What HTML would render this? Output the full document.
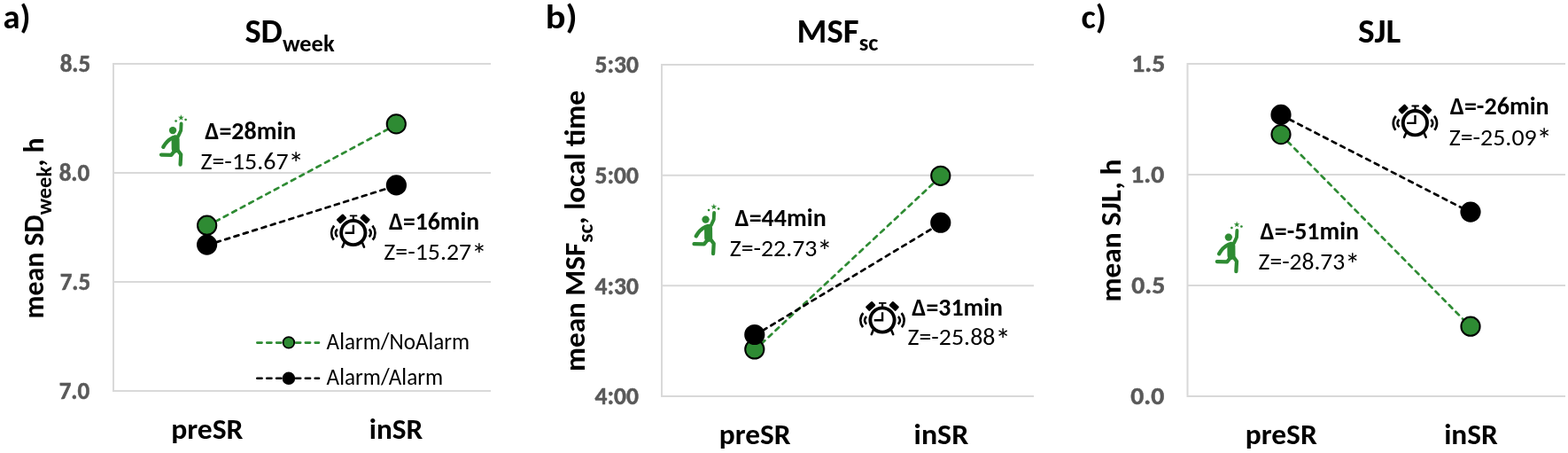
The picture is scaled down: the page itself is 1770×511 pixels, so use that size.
<!DOCTYPE html>
<html><head><meta charset="utf-8"><title>Sleep chart panels</title>
<style>
html,body{margin:0;padding:0;background:#fff;}
body{width:1770px;height:511px;overflow:hidden;}
svg{display:block;}
text{font-family:"Carlito","Liberation Sans",sans-serif;fill:#000;}
.lbl,.ttl,.ax,.cat,.annb{font-weight:bold;}
.tick{font-weight:bold;fill:#595959;stroke:#595959;stroke-width:0.5;}
.grid{stroke:#d9d9d9;stroke-width:2;fill:none;}
.g{stroke:#2e8b33;stroke-width:2.7;stroke-dasharray:5.1 5.7;stroke-linecap:round;fill:none;}
.k{stroke:#000;stroke-width:2.7;stroke-dasharray:5.1 5.7;stroke-linecap:round;fill:none;}
.lg{stroke-width:2.6;stroke-dasharray:5.3 5.6;}
.mg{fill:#2e8b33;stroke:#000;stroke-width:2;}
.mk{fill:#000;stroke:#000;stroke-width:2;}
.ic{fill:#2e8b33;stroke:#2e8b33;stroke-linecap:round;stroke-linejoin:round;}
</style></head>
<body>
<svg width="1770" height="511" viewBox="0 0 1770 511">
<rect width="1770" height="511" fill="#fff"/>
<path class="grid" d="M128 72H554M128 195H554M128 318H554M128 441H554M128 71V442"/>
<path class="k" d="M233.6 276.6L447.4 209.4"/>
<path class="g" d="M233.65 255L447.3 140.7"/>
<circle class="mk" cx="233.6" cy="276.1" r="10.6"/><circle class="mk" cx="447.4" cy="208.9" r="10.6"/>
<circle class="mg" cx="233.65" cy="254.2" r="10.6"/><circle class="mg" cx="447.3" cy="139.9" r="10.6"/>
<path class="g lg" d="M290.3 386.6H360"/><circle class="mg" cx="325.9" cy="386.4" r="6.3" style="stroke-width:1.8"/>
<path class="k lg" d="M290.3 426.8H360"/><circle class="mk" cx="325.9" cy="426.8" r="6.3"/>
<path class="grid" d="M747 73H1167M747 197.7H1167M747 322.3H1167M747 447H1167M747 72V448"/>
<path class="g" d="M851.8 394.9L1061.8 199.2"/>
<path class="k" d="M851.8 378.4L1061.8 252.1"/>
<circle class="mg" cx="851.8" cy="394" r="10.6"/><circle class="mg" cx="1061.8" cy="198.3" r="10.6"/>
<circle class="mk" cx="851.8" cy="377.5" r="10.6"/><circle class="mk" cx="1061.8" cy="251.2" r="10.6"/>
<path class="grid" d="M1340.5 72H1767M1340.5 197H1767M1340.5 322H1767M1340.5 447H1767M1340.5 71V448"/>
<path class="k" d="M1446 129.8L1660 239.5"/>
<path class="g" d="M1446 152L1660 368.6"/>
<circle class="mk" cx="1446" cy="129.4" r="10.6"/><circle class="mk" cx="1660" cy="239.1" r="10.6"/>
<circle class="mg" cx="1446" cy="151.6" r="10.6"/><circle class="mg" cx="1660" cy="368.2" r="10.6"/>
<g class="ic" transform="translate(176.00,126.00) scale(0.12539)"><path d="M226.0 28.0 L232.5 45.1 L250.7 46.0 L236.5 57.4 L241.3 75.0 L226.0 65.0 L210.7 75.0 L215.5 57.4 L201.3 46.0 L219.5 45.1Z"/><circle cx="180" cy="83" r="10"/><circle cx="268" cy="72" r="10"/><circle cx="152" cy="168" r="33"/><path d="M176 246 L177 334" stroke-width="72" fill="none"/><path d="M228 108 L225 168 L202 218" stroke-width="31" fill="none"/><path d="M150 234 Q98 260 66 318 M175 345 L138 390 L48 388 M195 345 L225 385 L220 476" stroke-width="34" fill="none"/></g>
<g class="ic" transform="translate(777.50,226.50) scale(0.12539)"><path d="M226.0 28.0 L232.5 45.1 L250.7 46.0 L236.5 57.4 L241.3 75.0 L226.0 65.0 L210.7 75.0 L215.5 57.4 L201.3 46.0 L219.5 45.1Z"/><circle cx="180" cy="83" r="10"/><circle cx="268" cy="72" r="10"/><circle cx="152" cy="168" r="33"/><path d="M176 246 L177 334" stroke-width="72" fill="none"/><path d="M228 108 L225 168 L202 218" stroke-width="31" fill="none"/><path d="M150 234 Q98 260 66 318 M175 345 L138 390 L48 388 M195 345 L225 385 L220 476" stroke-width="34" fill="none"/></g>
<g class="ic" transform="translate(1367.80,246.50) scale(0.12539)"><path d="M226.0 28.0 L232.5 45.1 L250.7 46.0 L236.5 57.4 L241.3 75.0 L226.0 65.0 L210.7 75.0 L215.5 57.4 L201.3 46.0 L219.5 45.1Z"/><circle cx="180" cy="83" r="10"/><circle cx="268" cy="72" r="10"/><circle cx="152" cy="168" r="33"/><path d="M176 246 L177 334" stroke-width="72" fill="none"/><path d="M228 108 L225 168 L202 218" stroke-width="31" fill="none"/><path d="M150 234 Q98 260 66 318 M175 345 L138 390 L48 388 M195 345 L225 385 L220 476" stroke-width="34" fill="none"/></g>
<g transform="translate(370.00,238.00) scale(0.08803)"><g fill="#000"><rect x="118.5" y="63" width="115" height="76" rx="13" transform="rotate(-43 176 101)"/><rect x="420.5" y="63" width="115" height="76" rx="13" transform="rotate(43 478 101)"/></g><circle cx="327" cy="278" r="155" fill="none" stroke="#fff" stroke-width="64"/><circle cx="327" cy="278" r="155" fill="none" stroke="#000" stroke-width="44"/><rect x="282" y="50" width="96" height="22" rx="5" fill="#000"/><rect x="315.5" y="66" width="25" height="50" fill="#000"/><g fill="none" stroke="#000" stroke-width="27"><path d="M328 180V281H222"/><path d="M210 410L188 462M444 410L466 462" stroke-width="29" stroke-linecap="round"/><path d="M82 190A139 139 0 0 0 78 370M125 235A58 58 0 0 0 125 330M572 190A139 139 0 0 1 576 370M529 235A58 58 0 0 1 529 330" stroke-width="30"/></g></g>
<g transform="translate(967.20,336.50) scale(0.08803)"><g fill="#000"><rect x="118.5" y="63" width="115" height="76" rx="13" transform="rotate(-43 176 101)"/><rect x="420.5" y="63" width="115" height="76" rx="13" transform="rotate(43 478 101)"/></g><circle cx="327" cy="278" r="155" fill="none" stroke="#fff" stroke-width="64"/><circle cx="327" cy="278" r="155" fill="none" stroke="#000" stroke-width="44"/><rect x="282" y="50" width="96" height="22" rx="5" fill="#000"/><rect x="315.5" y="66" width="25" height="50" fill="#000"/><g fill="none" stroke="#000" stroke-width="27"><path d="M328 180V281H222"/><path d="M210 410L188 462M444 410L466 462" stroke-width="29" stroke-linecap="round"/><path d="M82 190A139 139 0 0 0 78 370M125 235A58 58 0 0 0 125 330M572 190A139 139 0 0 1 576 370M529 235A58 58 0 0 1 529 330" stroke-width="30"/></g></g>
<g transform="translate(1568.60,114.20) scale(0.08803)"><g fill="#000"><rect x="118.5" y="63" width="115" height="76" rx="13" transform="rotate(-43 176 101)"/><rect x="420.5" y="63" width="115" height="76" rx="13" transform="rotate(43 478 101)"/></g><circle cx="327" cy="278" r="155" fill="none" stroke="#fff" stroke-width="64"/><circle cx="327" cy="278" r="155" fill="none" stroke="#000" stroke-width="44"/><rect x="282" y="50" width="96" height="22" rx="5" fill="#000"/><rect x="315.5" y="66" width="25" height="50" fill="#000"/><g fill="none" stroke="#000" stroke-width="27"><path d="M328 180V281H222"/><path d="M210 410L188 462M444 410L466 462" stroke-width="29" stroke-linecap="round"/><path d="M82 190A139 139 0 0 0 78 370M125 235A58 58 0 0 0 125 330M572 190A139 139 0 0 1 576 370M529 235A58 58 0 0 1 529 330" stroke-width="30"/></g></g>
<text id="lblA" class="lbl" font-size="37.5" textLength="31.10" lengthAdjust="spacingAndGlyphs" x="3.40" y="32.00">a)</text>
<text id="ttlA" class="ttl" font-size="38" textLength="101.16" lengthAdjust="spacingAndGlyphs" x="276.40" y="48.20">SD<tspan font-size="26" dy="9.4">week</tspan></text>
<text id="tA8.5" class="tick" font-size="28.3" text-anchor="end" textLength="34.64" lengthAdjust="spacingAndGlyphs" x="102.30" y="81.20">8.5</text>
<text id="tA8.0" class="tick" font-size="28.3" text-anchor="end" textLength="34.64" lengthAdjust="spacingAndGlyphs" x="101.30" y="204.20">8.0</text>
<text id="tA7.5" class="tick" font-size="28.3" text-anchor="end" textLength="34.64" lengthAdjust="spacingAndGlyphs" x="102.30" y="327.20">7.5</text>
<text id="tA7.0" class="tick" font-size="28.3" text-anchor="end" textLength="34.64" lengthAdjust="spacingAndGlyphs" x="101.30" y="450.20">7.0</text>
<text id="axA" class="ax" font-size="32.5" textLength="204.20" lengthAdjust="spacingAndGlyphs" transform="translate(48.50,359.50) rotate(-90)">mean SD<tspan font-size="25" dy="9.4">week</tspan><tspan dy="-9.4">, h</tspan></text>
<text id="preA" class="cat" font-size="32.3" textLength="81.24" lengthAdjust="spacingAndGlyphs" x="193.20" y="495.10">preSR</text>
<text id="inA" class="cat" font-size="32.3" textLength="60.57" lengthAdjust="spacingAndGlyphs" x="416.80" y="495.10">inSR</text>
<text id="d28" class="annb" font-size="27.5" textLength="102.97" lengthAdjust="spacingAndGlyphs" x="231.30" y="156.50">Δ=28min</text>
<text id="z1567" class="ann" font-size="27.3" textLength="116.52" lengthAdjust="spacingAndGlyphs" x="226.40" y="190.90">Z=-15.67<tspan font-size="34" dy="5.4">*</tspan></text>
<text id="d16" class="annb" font-size="27.5" textLength="102.26" lengthAdjust="spacingAndGlyphs" x="438.90" y="258.60">Δ=16min</text>
<text id="z1527" class="ann" font-size="27.3" textLength="116.21" lengthAdjust="spacingAndGlyphs" x="433.30" y="293.40">Z=-15.27<tspan font-size="34" dy="5.4">*</tspan></text>
<text id="legNo" class="leg" font-size="26" textLength="161.60" lengthAdjust="spacingAndGlyphs" x="368.60" y="394.30">Alarm/NoAlarm</text>
<text id="legAA" class="leg" font-size="26" textLength="131.53" lengthAdjust="spacingAndGlyphs" x="368.60" y="433.90">Alarm/Alarm</text>
<text id="lblB" class="lbl" font-size="37.5" textLength="35.94" lengthAdjust="spacingAndGlyphs" x="615.80" y="31.50">b)</text>
<text id="ttlB" class="ttl" font-size="38" textLength="91.75" lengthAdjust="spacingAndGlyphs" x="899.60" y="47.90">MSF<tspan font-size="26" dy="8.6">sc</tspan></text>
<text id="tB5:30" class="tick" font-size="28.3" text-anchor="end" textLength="49.42" lengthAdjust="spacingAndGlyphs" x="721.00" y="82.20">5:30</text>
<text id="tB5:00" class="tick" font-size="28.3" text-anchor="end" textLength="49.42" lengthAdjust="spacingAndGlyphs" x="721.00" y="206.90">5:00</text>
<text id="tB4:30" class="tick" font-size="28.3" text-anchor="end" textLength="49.42" lengthAdjust="spacingAndGlyphs" x="721.00" y="331.50">4:30</text>
<text id="tB4:00" class="tick" font-size="28.3" text-anchor="end" textLength="49.42" lengthAdjust="spacingAndGlyphs" x="721.00" y="456.20">4:00</text>
<text id="axB" class="ax" font-size="32.5" textLength="316.91" lengthAdjust="spacingAndGlyphs" transform="translate(659.50,419.00) rotate(-90)">mean MSF<tspan font-size="25" dy="9.4">sc</tspan><tspan dy="-9.4">, local time</tspan></text>
<text id="preB" class="cat" font-size="32.3" textLength="80.83" lengthAdjust="spacingAndGlyphs" x="811.80" y="501.10">preSR</text>
<text id="inB" class="cat" font-size="32.3" textLength="61.65" lengthAdjust="spacingAndGlyphs" x="1031.60" y="501.10">inSR</text>
<text id="d44" class="annb" font-size="27.5" textLength="103.19" lengthAdjust="spacingAndGlyphs" x="829.50" y="255.40">Δ=44min</text>
<text id="z2273" class="ann" font-size="27.3" textLength="115.89" lengthAdjust="spacingAndGlyphs" x="823.70" y="289.40">Z=-22.73<tspan font-size="34" dy="5.4">*</tspan></text>
<text id="d31" class="annb" font-size="27.5" textLength="102.66" lengthAdjust="spacingAndGlyphs" x="1029.30" y="355.50">Δ=31min</text>
<text id="z2588" class="ann" font-size="27.3" textLength="116.31" lengthAdjust="spacingAndGlyphs" x="1024.40" y="389.40">Z=-25.88<tspan font-size="34" dy="5.4">*</tspan></text>
<text id="lblC" class="lbl" font-size="37.5" textLength="28.47" lengthAdjust="spacingAndGlyphs" x="1220.50" y="31.50">c)</text>
<text id="ttlC" class="ttl" font-size="38" textLength="48.33" lengthAdjust="spacingAndGlyphs" x="1533.00" y="47.90">SJL</text>
<text id="tC1.5" class="tick" font-size="28.3" text-anchor="end" textLength="37.90" lengthAdjust="spacingAndGlyphs" x="1315.20" y="81.20">1.5</text>
<text id="tC1.0" class="tick" font-size="28.3" text-anchor="end" textLength="37.90" lengthAdjust="spacingAndGlyphs" x="1314.20" y="206.20">1.0</text>
<text id="tC0.5" class="tick" font-size="28.3" text-anchor="end" textLength="37.90" lengthAdjust="spacingAndGlyphs" x="1315.20" y="331.20">0.5</text>
<text id="tC0.0" class="tick" font-size="28.3" text-anchor="end" textLength="37.90" lengthAdjust="spacingAndGlyphs" x="1314.20" y="456.20">0.0</text>
<text id="axC" class="ax" font-size="32.5" textLength="160.89" lengthAdjust="spacingAndGlyphs" transform="translate(1265.20,340.60) rotate(-90)">mean SJL, h</text>
<text id="preC" class="cat" font-size="32.3" textLength="80.93" lengthAdjust="spacingAndGlyphs" x="1405.80" y="501.00">preSR</text>
<text id="inC" class="cat" font-size="32.3" textLength="60.57" lengthAdjust="spacingAndGlyphs" x="1630.20" y="501.00">inSR</text>
<text id="d26" class="annb" font-size="27.5" textLength="112.00" lengthAdjust="spacingAndGlyphs" x="1636.70" y="128.90">Δ=-26min</text>
<text id="z2509" class="ann" font-size="27.3" textLength="116.21" lengthAdjust="spacingAndGlyphs" x="1635.70" y="163.80">Z=-25.09<tspan font-size="34" dy="5.4">*</tspan></text>
<text id="d51" class="annb" font-size="27.5" textLength="111.49" lengthAdjust="spacingAndGlyphs" x="1422.60" y="270.10">Δ=-51min</text>
<text id="z2873" class="ann" font-size="27.3" textLength="114.63" lengthAdjust="spacingAndGlyphs" x="1420.60" y="304.40">Z=-28.73<tspan font-size="34" dy="5.4">*</tspan></text>
</svg>
</body></html>
